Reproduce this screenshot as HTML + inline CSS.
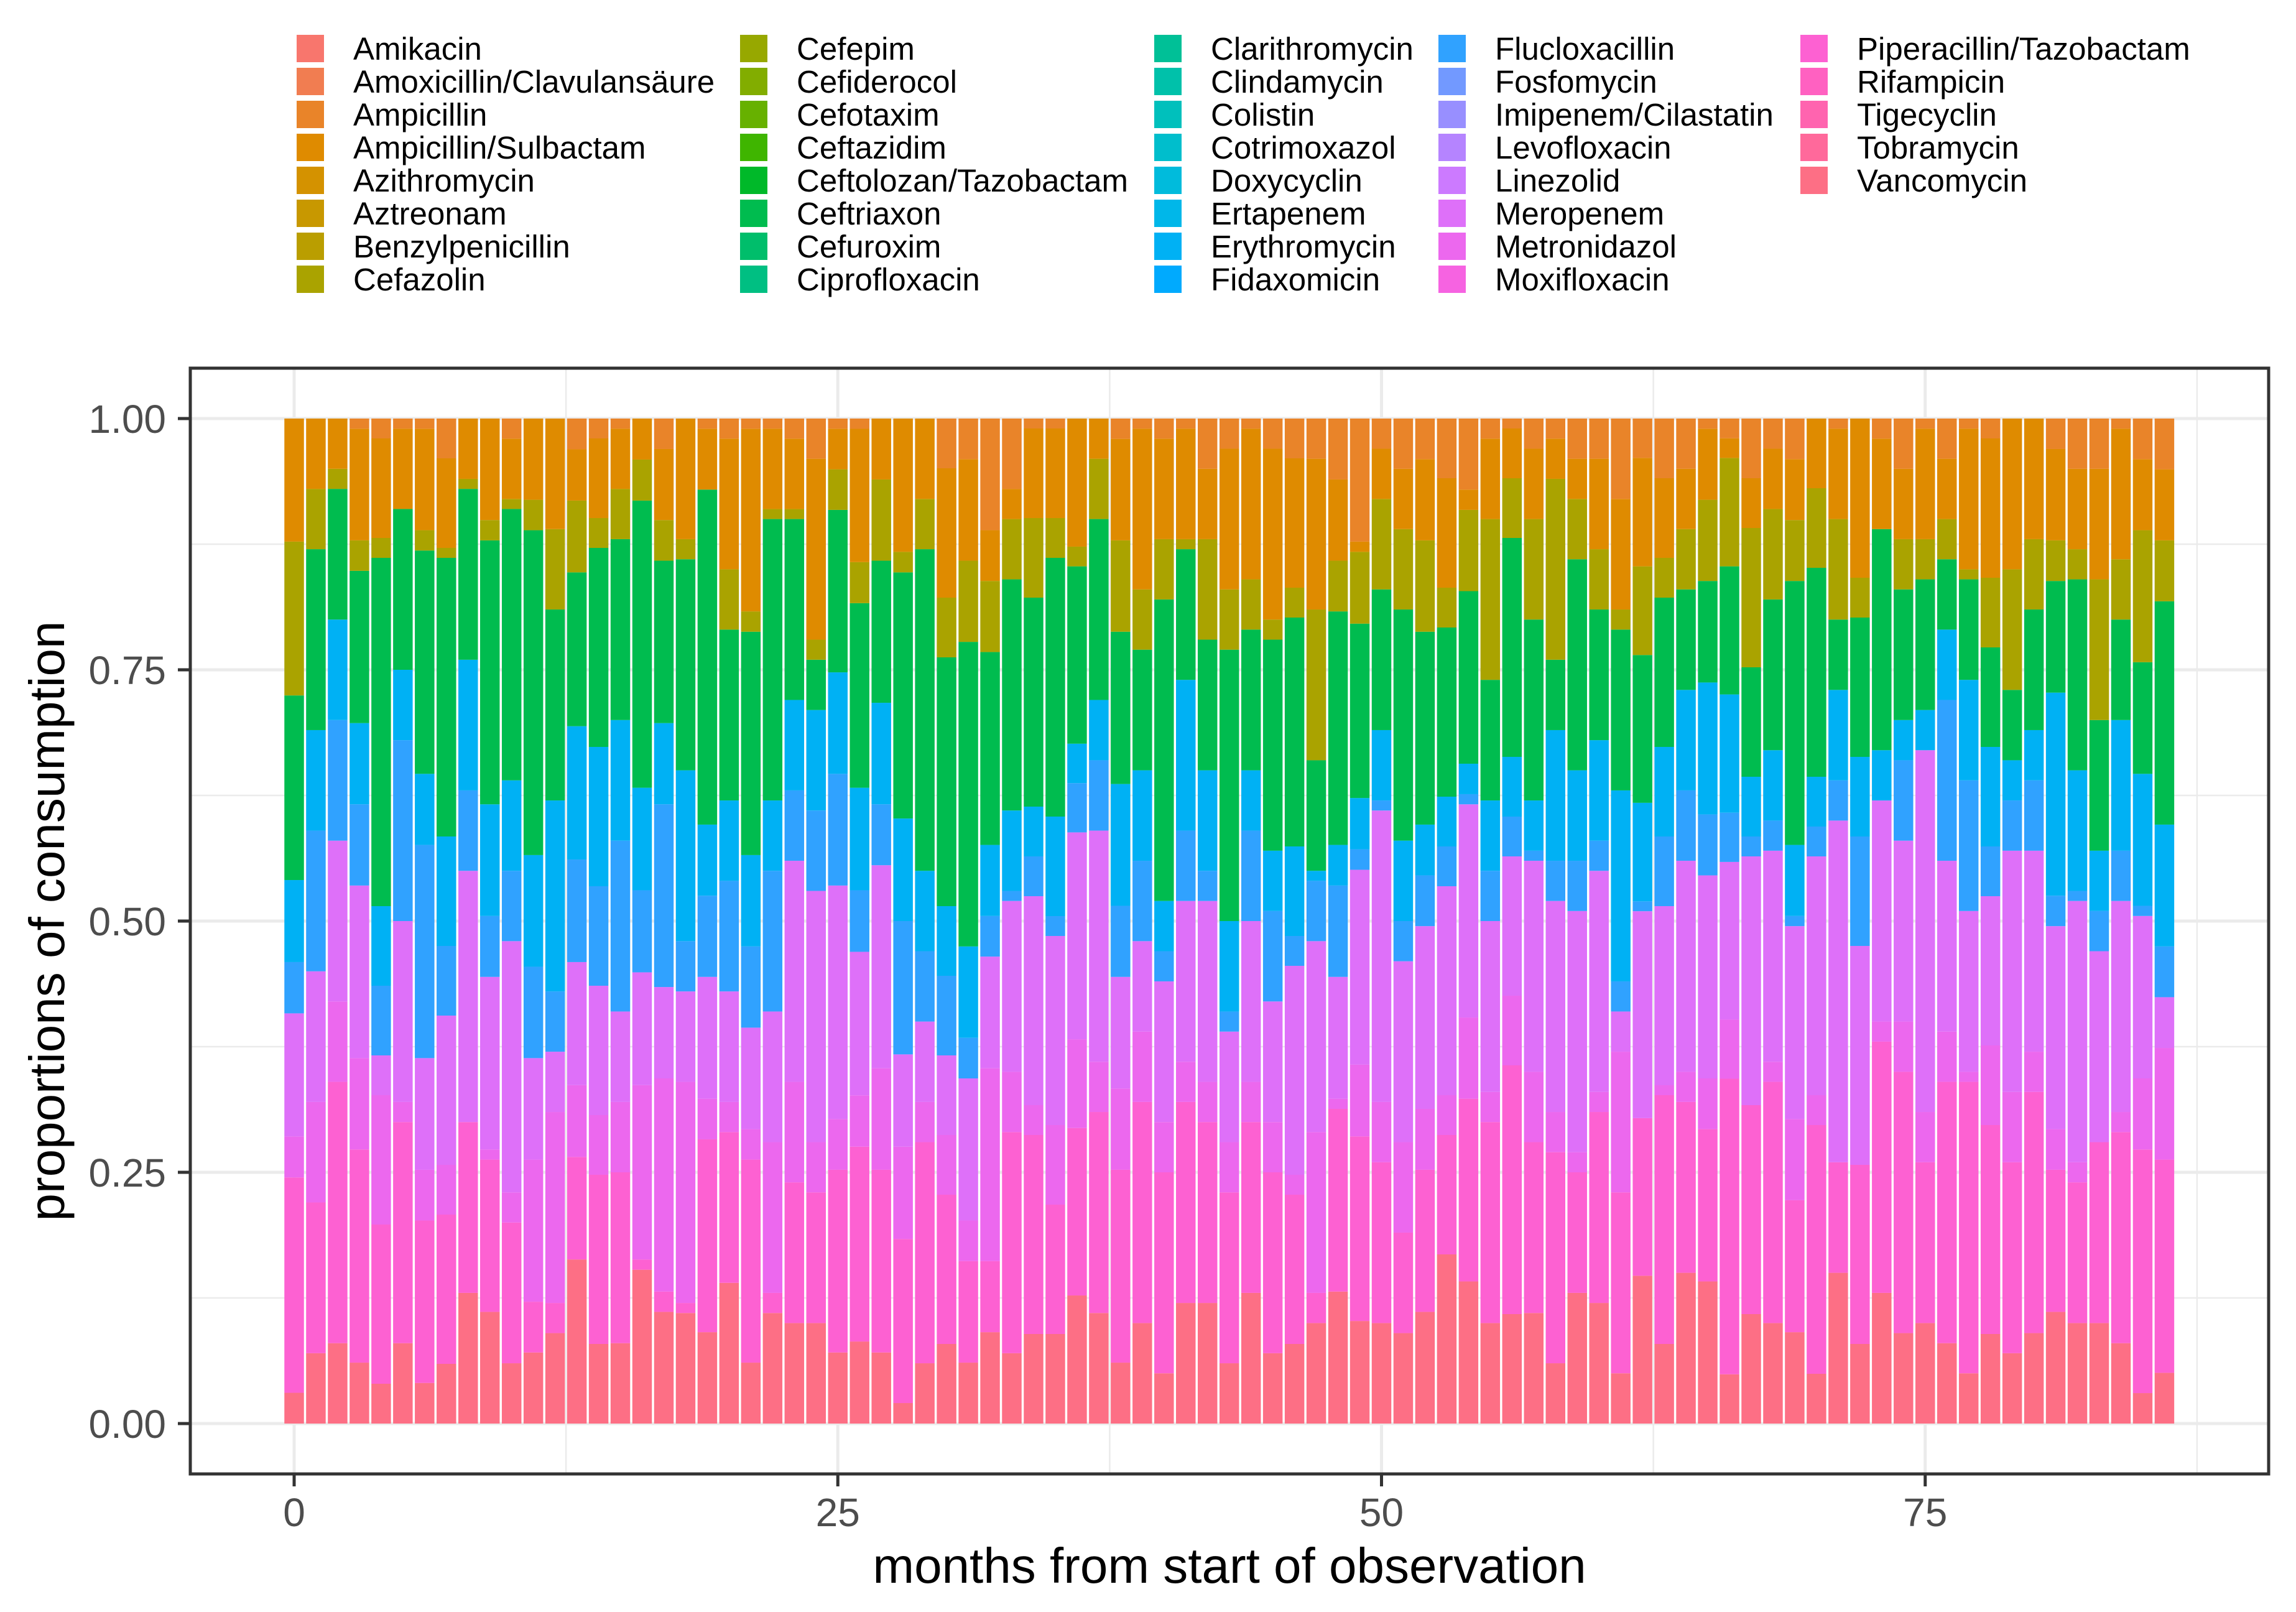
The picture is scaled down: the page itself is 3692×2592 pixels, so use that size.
<!DOCTYPE html>
<html><head><meta charset="utf-8">
<style>
html,body{margin:0;padding:0;background:#fff;}
svg{display:block;}
text{font-family:"Liberation Sans",Arial,sans-serif;}
</style></head>
<body>
<svg id="chart" width="3692" height="2592" viewBox="0 0 3692 2592" xmlns="http://www.w3.org/2000/svg">
<rect x="0" y="0" width="3692" height="2592" fill="#ffffff"/>
<g id="grid"></g>
<g id="bars"></g>
<g id="axes"></g>
<g id="legend"></g>
<text x="0" y="0" transform="translate(103,1481) rotate(-90)" text-anchor="middle" font-size="80" fill="#000">proportions of consumption</text>
<text x="1977" y="2545" text-anchor="middle" font-size="80" fill="#000">months from start of observation</text>
</svg>
<script>
// ---- data (shares per month; normalised per bar) ----
const drugNames = ["Amikacin","Amoxicillin/Clavulansäure","Ampicillin","Ampicillin/Sulbactam","Azithromycin","Aztreonam","Benzylpenicillin","Cefazolin","Cefepim","Cefiderocol","Cefotaxim","Ceftazidim","Ceftolozan/Tazobactam","Ceftriaxon","Cefuroxim","Ciprofloxacin","Clarithromycin","Clindamycin","Colistin","Cotrimoxazol","Doxycyclin","Ertapenem","Erythromycin","Fidaxomicin","Flucloxacillin","Fosfomycin","Imipenem/Cilastatin","Levofloxacin","Linezolid","Meropenem","Metronidazol","Moxifloxacin","Piperacillin/Tazobactam","Rifampicin","Tigecyclin","Tobramycin","Vancomycin"];
const xTicks = [0,25,50,75];
const xTickLabels = ["0","25","50","75"];
const yTicks = [0,0.25,0.5,0.75,1];
const yTickLabels = ["0.00","0.25","0.50","0.75","1.00"];
const vancomycin = [3,7,8,6,4,8,4,6,13,11,6,7,9,16,8,8,15,11,11,9,14,6,11,10,10,7,8,7,2,6,8,6,9,7,9,9,13,11,6,10,5,12,12,6,13,7,8,10,13,10,10,9,11,17,14,10,11,11,6,13,12,5,15,8,15,14,5,11,10,9,5,15,8,13,9,10,8,5,9,7,9,11,10,10,8,3,5];
const piperacillin = [21,15,26,21,16,22,16,15,17,15,14,5,3,10,17,17,1,2,1,19,15,20,2,14,13,18,19,18,16,22,15,10,7,22,20,13,17,20,19,22,20,20,18,17,17,18,15,3,18,18,16,10,14,12,18,20,25,17,21,12,19,18,16,25,17,15,30,21,24,13,25,11,18,25,26,16,26,29,21,19,24,14,14,18,21,24,21];
const metronidazol = [4,10,8,9,13,2,5,5,0,1,3,14,19,7,6,7,17,21,22,4,3,3,15,10,5,5,5,10,9,4,6,4,19,6,3,8,9,5,8,7,5,4,4,5,4,5,2,16,1,7,6,9,6,4,8,3,7,7,4,2,2,14,0,1,3,5,6,0,2,8,3,0,0,2,5,5,5,1,8,7,4,4,2,0,2,7,11];
const meropenem = [12,13,16,17,4,18,11,15,25,17,25,10,6,12,13,9,11,9,9,12,11,10,13,22,25,23,14,20,9,8,8,14,11,17,21,19,21,23,11,9,14,16,18,11,16,12,21,19,12,19,29,18,18,21,21,17,14,21,21,24,22,4,21,18,21,20,16,25,21,19,24,34,22,22,18,36,17,16,15,24,20,20,26,19,21,16,5];
const flucloxacillin = [5,14,12,8,7,18,21,7,8,6,7,9,6,10,10,17,8,18,5,8,11,8,14,7,8,11,6,6,13,7,8,4,4,1,4,2,5,7,7,8,3,7,3,2,9,9,3,6,9,2,1,4,5,4,1,5,4,1,4,5,3,3,1,7,7,6,5,2,3,1,3,4,11,0,8,0,16,13,5,5,7,3,1,4,5,1,5];
const erythromycin = [8,10,10,8,8,7,7,11,13,11,9,11,19,13,14,12,10,8,17,7,8,9,7,9,10,10,10,10,10,8,7,9,7,8,5,10,4,6,12,9,5,15,10,9,6,6,9,1,4,5,7,8,5,5,3,7,6,5,13,9,10,19,10,9,10,13,12,6,7,7,5,9,8,5,4,4,7,10,10,4,5,20,12,6,13,13,12];
const ceftriaxon = [18,18,13,15,35,16,22,28,17,26,27,32,19,15,20,18,28,16,21,33,17,22,28,18,5,16,18,14,24,32,25,30,19,23,21,26,18,18,15,12,30,13,13,27,14,21,23,11,23,17,14,23,19,17,17,12,22,18,7,21,13,16,15,15,10,10,13,11,15,26,21,7,14,22,13,13,7,10,10,7,12,11,19,13,10,11,22];
const cefazolin = [15,6,2,3,2,0,2,1,1,2,1,3,8,7,3,5,4,4,2,0,6,2,1,1,2,4,4,8,2,5,6,8,7,6,8,4,2,6,9,6,6,1,10,6,5,2,3,15,5,7,9,8,9,4,8,16,6,10,18,6,6,2,9,4,6,8,11,14,9,6,8,10,4,0,5,4,4,1,7,12,7,4,3,14,6,13,6];
const ampicillinSulbactam = [12,7,5,11,10,8,10,9,6,10,6,8,11,5,8,6,4,7,12,6,13,18,8,7,18,4,13,6,13,8,13,10,5,3,9,9,13,4,10,16,10,11,7,14,15,17,13,15,8,1,5,6,8,11,2,8,5,7,4,4,9,11,11,8,6,7,2,5,6,6,7,9,16,9,7,11,6,14,14,15,12,9,8,11,13,7,7];
const ampicillin = [0,0,0,1,2,1,1,4,0,0,2,0,0,3,2,1,0,3,0,1,2,1,1,2,4,1,1,0,0,0,5,4,11,7,1,1,0,0,2,1,2,1,5,3,1,3,4,4,6,12,3,5,4,6,7,2,1,3,2,4,4,8,4,6,5,1,2,6,3,4,0,1,0,2,5,1,4,1,2,0,0,3,5,5,1,4,5];

// stacking order bottom -> top (drug index, values)
const stackSeries = [
  [36, vancomycin], [32, piperacillin], [30, metronidazol], [29, meropenem],
  [24, flucloxacillin], [22, erythromycin], [13, ceftriaxon], [7, cefazolin],
  [3, ampicillinSulbactam], [2, ampicillin]
];

// ---- scales ----
const X0 = 473, XSTEP = 34.97, Y0 = 2289, YH = 1616;
const PL = 306, PR = 3648, PT = 592, PB = 2370;
function xScale(m){ return X0 + m * XSTEP; }
function yScale(v){ return Y0 - v * YH; }

// ---- ggplot hue palette ----
function hcl(h, c, l){
  const hr = h * Math.PI / 180;
  const u = c * Math.cos(hr), v = c * Math.sin(hr);
  const Xn = 95.047, Yn = 100, Zn = 108.883;
  const Y = Yn * Math.pow((l + 16) / 116, 3);
  const den = Xn + 15 * Yn + 3 * Zn;
  const un = 4 * Xn / den, vn = 9 * Yn / den;
  const up = u / (13 * l) + un, vp = v / (13 * l) + vn;
  const X = 9 * Y * up / (4 * vp);
  const Z = (12 - 3 * up - 20 * vp) * Y / (4 * vp);
  const x = X / 100, y = Y / 100, z = Z / 100;
  let r = 3.2404542 * x - 1.5371385 * y - 0.4985314 * z;
  let g = -0.9692660 * x + 1.8760108 * y + 0.0415560 * z;
  let b = 0.0556434 * x - 0.2040259 * y + 1.0572252 * z;
  function gam(t){ t = t <= 0.0031308 ? 12.92 * t : 1.055 * Math.pow(t, 1 / 2.4) - 0.055; return Math.round(Math.max(0, Math.min(1, t)) * 255); }
  return "rgb(" + gam(r) + "," + gam(g) + "," + gam(b) + ")";
}
const N = drugNames.length;
const colors = drugNames.map((d, i) => hcl(15 + i * 360 / N, 100, 65));

const NS = "http://www.w3.org/2000/svg";
function mk(tag, attrs, parent){
  const e = document.createElementNS(NS, tag);
  for (const k in attrs) e.setAttribute(k, attrs[k]);
  parent.appendChild(e);
  return e;
}

// ---- grid ----
const grid = document.getElementById("grid");
[0.125,0.375,0.625,0.875].forEach(v => {
  const l = mk("line", {x1: PL, x2: PR, y1: yScale(v), y2: yScale(v), stroke: "#EBEBEB", "stroke-width": 2.5}, grid);
  
  
});
[12.5,37.5,62.5,87.5].forEach(m => {
  const l = mk("line", {x1: xScale(m), x2: xScale(m), y1: PT, y2: PB, stroke: "#EBEBEB", "stroke-width": 2.5}, grid);
  
  
});
yTicks.forEach(v => {
  const l = mk("line", {x1: PL, x2: PR, y1: yScale(v), y2: yScale(v), stroke: "#EBEBEB", "stroke-width": 5}, grid);
  
  
});
xTicks.forEach(m => {
  const l = mk("line", {x1: xScale(m), x2: xScale(m), y1: PT, y2: PB, stroke: "#EBEBEB", "stroke-width": 5}, grid);
  
  
});

// ---- bars ----
const bars = document.getElementById("bars");
const nMonths = vancomycin.length;
const bw = 0.9 * XSTEP;
for (let m = 0; m < nMonths; m++){
  let total = 0;
  stackSeries.forEach(s => { total += s[1][m]; });
  let cum = 0;
  stackSeries.forEach(s => {
    const val = s[1][m] / total;
    if (val <= 0) return;
    const yTop = yScale(cum + val), yBot = yScale(cum);
    const r = mk("rect", {x: xScale(m) - bw / 2, y: yTop, width: bw, height: yBot - yTop, fill: colors[s[0]]}, bars);
    
    
    cum += val;
  });
}

// ---- axes ----
const axes = document.getElementById("axes");
const border = mk("rect", {x: PL, y: PT, width: PR - PL, height: PB - PT, fill: "none", stroke: "#333333", "stroke-width": 5}, axes);


yTicks.forEach((v, i) => {
  const t = mk("line", {x1: PL - 20, x2: PL, y1: yScale(v), y2: yScale(v), stroke: "#333333", "stroke-width": 5}, axes);
  
  
  const tx = mk("text", {x: 267, y: yScale(v) + 23, "text-anchor": "end", "font-size": 64, fill: "#4D4D4D"}, axes);
  tx.textContent = yTickLabels[i];
  
  
});
xTicks.forEach((m, i) => {
  const t = mk("line", {x1: xScale(m), x2: xScale(m), y1: PB, y2: PB + 20, stroke: "#333333", "stroke-width": 5}, axes);
  
  
  const tx = mk("text", {x: xScale(m), y: 2454, "text-anchor": "middle", "font-size": 64, fill: "#4D4D4D"}, axes);
  tx.textContent = xTickLabels[i];
  
  
});

// ---- legend ----
const legend = document.getElementById("legend");
const colKeyX = [477, 1190, 1856, 2313, 2895];
for (let i = 0; i < N; i++){
  const col = Math.floor(i / 8), row = i % 8;
  const ky = 56 + row * 53;
  const k = mk("rect", {x: colKeyX[col], y: ky, width: 44, height: 44, fill: colors[i]}, legend);
  
  
  const t = mk("text", {x: colKeyX[col] + 91, y: ky + 40, "font-size": 51, fill: "#000"}, legend);
  t.textContent = drugNames[i];
  
  
}
</script>
</body></html>
